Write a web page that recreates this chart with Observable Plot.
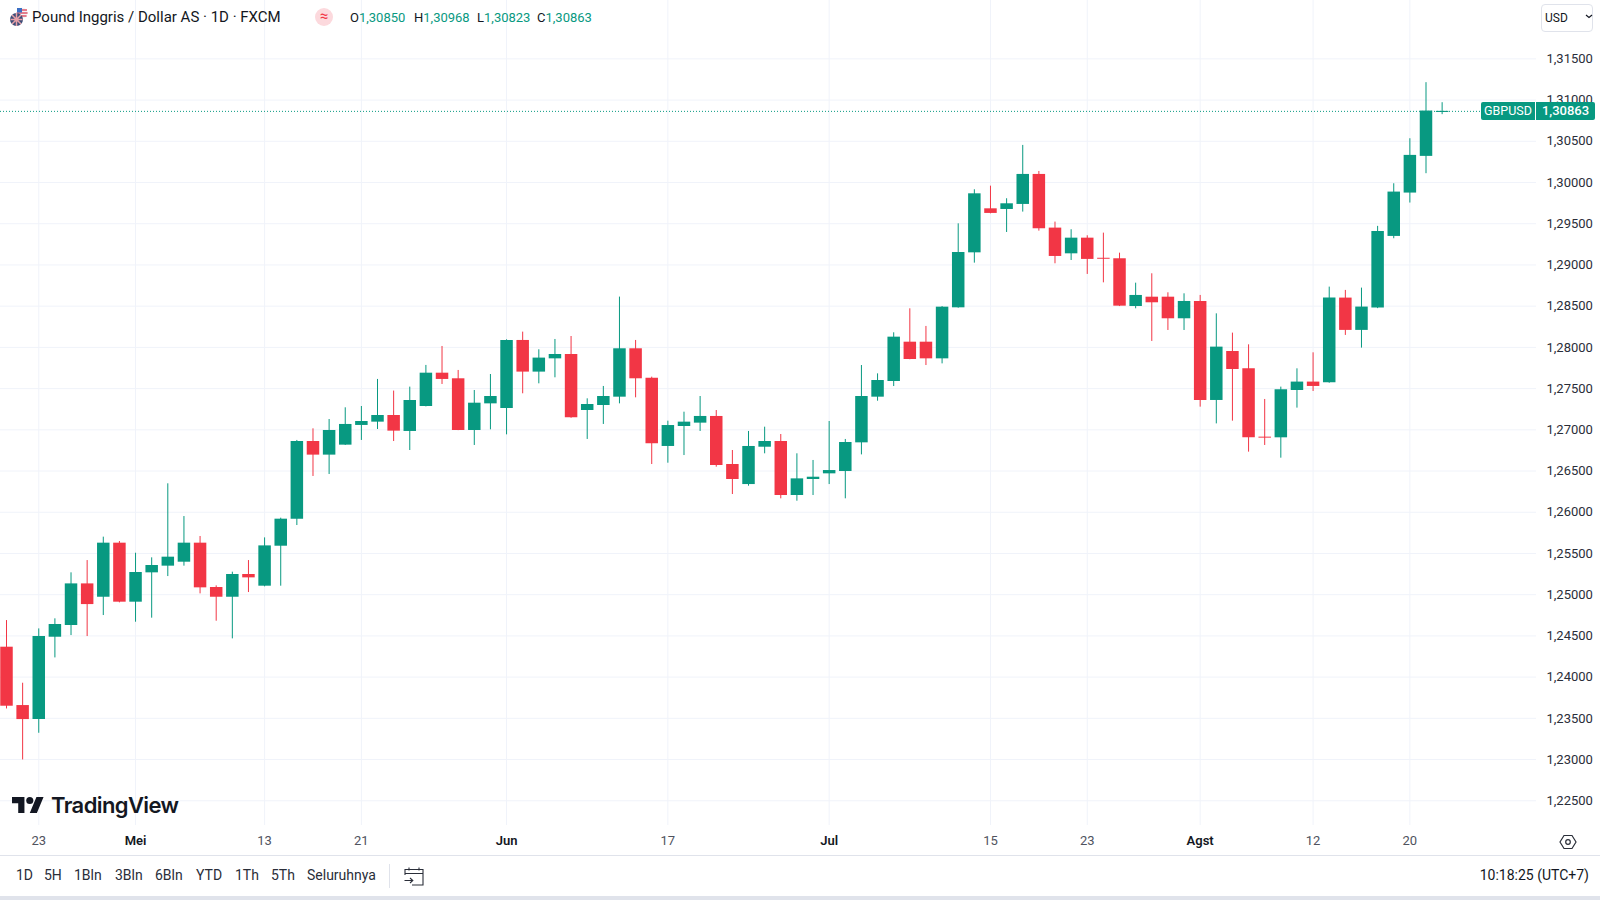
<!DOCTYPE html>
<html>
<head>
<meta charset="utf-8">
<script src="https://cdn.jsdelivr.net/npm/d3@7"></script>
<script src="https://cdn.jsdelivr.net/npm/@observablehq/plot@0.6"></script>
<style>
html,body{margin:0;padding:0;background:#fff;}
#page{position:relative;width:1600px;height:900px;overflow:hidden;background:#fff;font-family:Roboto,sans-serif;color:#131722;}
#page svg{display:block;}
.abs{position:absolute;white-space:nowrap;}
.g{color:#089981;}
.bar span{position:absolute;top:0;white-space:nowrap;}
</style>
</head>
<body>
<div id="page"></div>
<script>
const opens = [1.24363,1.23655,1.23485,1.24484,1.24626,1.25131,1.24969,1.25625,1.24909,1.25265,
1.25346,1.25394,1.25625,1.25087,1.24969,1.25245,1.25103,1.25588,1.25916,1.26858,
1.26693,1.26814,1.27053,1.27093,1.27174,1.26980,1.27283,1.27687,1.27619,1.26992,
1.27315,1.27259,1.28084,1.27700,1.27861,1.27914,1.27234,1.27295,1.27396,1.27983,
1.27627,1.26798,1.27040,1.27081,1.27162,1.26579,1.26336,1.26789,1.26858,1.26203,
1.26397,1.26466,1.26494,1.26842,1.27396,1.27586,1.28063,1.28063,1.27861,1.28480,
1.29147,1.29681,1.29673,1.29734,1.30098,1.29447,1.29135,1.29325,1.29081,1.29075,
1.28496,1.28609,1.28609,1.28347,1.28557,1.27356,1.27950,1.27740,1.26911,1.26903,
1.27477,1.27579,1.27570,1.28598,1.28206,1.28477,1.29346,1.29872,1.30317,1.30850];
const highs = [1.24686,1.23926,1.24585,1.24707,1.25265,1.25414,1.25698,1.25645,1.25503,1.25447,
1.26345,1.25948,1.25706,1.25107,1.25273,1.25414,1.25689,1.25928,1.26871,1.27012,
1.27125,1.27267,1.27283,1.27611,1.27470,1.27518,1.27781,1.28011,1.27720,1.27477,
1.27671,1.28092,1.28185,1.27971,1.28096,1.28132,1.27376,1.27526,1.28610,1.28084,
1.27639,1.27105,1.27214,1.27404,1.27234,1.26749,1.26980,1.27032,1.26943,1.26709,
1.26628,1.27101,1.26883,1.27780,1.27679,1.28177,1.28468,1.28254,1.28495,1.29499,
1.29912,1.29956,1.29803,1.30450,1.30134,1.29520,1.29427,1.29354,1.29386,1.29143,
1.28779,1.28893,1.28662,1.28650,1.28630,1.28407,1.28173,1.28031,1.27368,1.27518,
1.27740,1.27934,1.28731,1.28691,1.28719,1.29468,1.29985,1.30531,1.31211,1.30968];
const lows = [1.23614,1.22995,1.23319,1.24233,1.24504,1.24492,1.24747,1.24901,1.24666,1.24715,
1.25220,1.25346,1.25010,1.24678,1.24464,1.25026,1.25095,1.25103,1.25839,1.26434,
1.26458,1.26810,1.26871,1.27004,1.26858,1.26749,1.27278,1.27550,1.26990,1.26810,
1.27000,1.26939,1.27437,1.27558,1.27631,1.27140,1.26883,1.27065,1.27315,1.27388,
1.26579,1.26595,1.26688,1.26980,1.26547,1.26215,1.26316,1.26709,1.26163,1.26134,
1.26203,1.26336,1.26163,1.26696,1.27347,1.27525,1.27850,1.27780,1.27800,1.28475,
1.29022,1.29620,1.29394,1.29641,1.29410,1.29014,1.29054,1.28885,1.28783,1.28495,
1.28468,1.28072,1.28205,1.28205,1.27275,1.27072,1.27105,1.26729,1.26810,1.26656,
1.27263,1.27465,1.27565,1.28145,1.27991,1.28470,1.29318,1.29751,1.30107,1.30823];
const closes = [1.23647,1.23485,1.24492,1.24638,1.25131,1.24880,1.25625,1.24909,1.25269,1.25354,
1.25455,1.25625,1.25083,1.24969,1.25245,1.25204,1.25592,1.25916,1.26858,1.26693,
1.26992,1.27065,1.27101,1.27174,1.26984,1.27356,1.27687,1.27611,1.26992,1.27323,
1.27404,1.28084,1.27700,1.27870,1.27914,1.27145,1.27307,1.27404,1.27983,1.27619,
1.26830,1.27052,1.27093,1.27162,1.26567,1.26397,1.26798,1.26858,1.26203,1.26405,
1.26425,1.26506,1.26846,1.27404,1.27598,1.28124,1.27853,1.27861,1.28488,1.29151,
1.29863,1.29625,1.29742,1.30098,1.29439,1.29103,1.29325,1.29067,1.29069,1.28500,
1.28630,1.28541,1.28347,1.28557,1.27356,1.28003,1.27732,1.26903,1.26899,1.27486,
1.27579,1.27526,1.28598,1.28206,1.28489,1.29407,1.29884,1.30329,1.30867,1.30863];

const dayTickIndex = [2,16,22,41,61,67,81,87];
const dayTickLabels = ["23","13","21","17","15","23","12","20"];
const monthTickIndex = [8,31,51,74];
const monthTickLabels = ["Mei","Jun","Jul","Agst"];
const priceTicks = [1.225,1.23,1.235,1.24,1.245,1.25,1.255,1.26,1.265,1.27,1.275,1.28,1.285,1.29,1.295,1.3,1.305,1.31,1.315];
const rangeButtons = ["1D","5H","1Bln","3Bln","6Bln","YTD","1Th","5Th","Seluruhnya"];
const legendOHLC = [["O","1,30850"],["H","1,30968"],["L","1,30823"],["C","1,30863"]];
const lastPrice = 1.30863;

const GREEN = "#089981", RED = "#F23645", GRID = "#f0f3fa", TEXT = "#2a2e39";
const candles = opens.map((o,i)=>({i,o,h:highs[i],l:lows[i],c:closes[i],dir:closes[i]>=o?"up":"down"}));
const fmtPrice = v => v.toFixed(5).replace(".",",");
const allTicks = [...dayTickIndex,...monthTickIndex];

const chart = Plot.plot({
  width:1600, height:855,
  marginLeft:0, marginRight:64, marginTop:0, marginBottom:30,
  style:{fontFamily:"Roboto, sans-serif",background:"transparent"},
  x:{type:"linear",domain:[-0.372,94.85],axis:null},
  y:{type:"linear",domain:[1.2220,1.32208],axis:null},
  color:{domain:["up","down"],range:[GREEN,RED]},
  marks:[
    Plot.ruleX(allTicks,{stroke:GRID,strokeWidth:1}),
    Plot.ruleY(priceTicks,{stroke:GRID,strokeWidth:1}),
    Plot.axisY({anchor:"right",ticks:priceTicks,tickFormat:fmtPrice,tickSize:0,tickPadding:10,label:null,fontSize:13,fill:TEXT}),
    Plot.axisX({ticks:dayTickIndex,tickFormat:v=>dayTickLabels[dayTickIndex.indexOf(v)],tickSize:0,tickPadding:10,label:null,fontSize:13,fill:"#50535e"}),
    Plot.axisX({ticks:monthTickIndex,tickFormat:v=>monthTickLabels[monthTickIndex.indexOf(v)],tickSize:0,tickPadding:10,label:null,fontSize:13,fontWeight:600,fill:"#131722"}),
    Plot.ruleY([lastPrice],{stroke:GREEN,strokeWidth:1,strokeDasharray:"1 2"}),
    Plot.ruleX(candles,{x:"i",y1:"l",y2:"h",stroke:"dir",strokeWidth:1,clip:true}),
    Plot.ruleX(candles,{x:"i",y1:"o",y2:"c",stroke:"dir",strokeWidth:12.5,clip:true})
  ]
});
const page = document.getElementById("page");
page.appendChild(chart);
chart.style.position="absolute";chart.style.left="0";chart.style.top="0";

function add(html,css){const d=document.createElement("div");d.className="abs";d.style.cssText=css;d.innerHTML=html;page.appendChild(d);return d;}

// bottom furniture
add("", "left:0;top:855px;width:1600px;height:1px;background:#e0e3eb;");
add("", "left:0;top:896px;width:1600px;height:4px;background:#e0e3eb;");
add("", "left:389px;top:864px;width:1px;height:24px;background:#e0e3eb;");

// header
add(`<svg width="20" height="20" viewBox="0 0 20 20">
<circle cx="13" cy="6" r="5.5" fill="#f3f4f6"/><path d="M8 3h10M7.6 6h11M8.6 9h9" stroke="#e0566a" stroke-width="1.3"/><rect x="8" y="1" width="5" height="4.5" fill="#3b6fc4"/>
<circle cx="7.5" cy="12.5" r="6.5" fill="#3d4e78"/><path d="M1.5 12.5h12M7.5 6v13M3 8l9 9M12 8l-9 9" stroke="#e7a0a8" stroke-width="1.5"/></svg>`,"left:9px;top:7px;width:20px;height:20px;");
add("Pound Inggris / Dollar AS · 1D · FXCM","left:32px;top:8px;font-size:15px;line-height:19px;color:#131722;");
add("≈","left:315px;top:8px;width:18px;height:18px;border-radius:9px;background:#fcd9dd;color:#f23645;font-size:15px;line-height:17px;text-align:center;");
const legendX=[350,414,477,537];
legendOHLC.forEach(([k,v],i)=>add(`${k}<span class="g">${v}</span>`,`left:${legendX[i]}px;top:9px;font-size:13px;line-height:17px;color:#131722;`));

// currency box
add(`USD`,"left:1541px;top:4px;width:47px;height:26px;padding-left:3px;border:1px solid #e0e3eb;border-radius:4px;font-size:12px;line-height:27px;color:#131722;background:#fff;");
add(`<svg width="8" height="5" viewBox="0 0 8 5"><path d="M1 1l3 2.5L7 1" fill="none" stroke="#131722" stroke-width="1.2"/></svg>`,"left:1585px;top:14px;");

// last-price badges
const py = chart.scale("y").apply(lastPrice);
add("GBPUSD",`left:1481px;top:${py-9}px;width:54px;height:18px;background:${GREEN};color:#fff;border-radius:2px 0 0 2px;font-size:12.5px;line-height:18px;text-align:center;`);
add(fmtPrice(lastPrice),`left:1536px;top:${py-9}px;width:59px;height:18px;background:${GREEN};color:#fff;border-radius:0 2px 2px 0;font-size:13px;line-height:18px;text-align:center;font-weight:500;`);

// logo
add(`<svg width="32" height="16" viewBox="0 4 36 18"><path d="M14 22H7V11H0V4h14v18zM28 22h-8l7.5-18h8L28 22z" fill="#131722"/><circle cx="20" cy="8" r="4" fill="#131722"/></svg>`,"left:12px;top:797px;");
add("TradingView","left:51px;top:791px;font-family:Inter,sans-serif;font-size:22px;font-weight:600;letter-spacing:-0.6px;line-height:28px;color:#131722;");

// settings icon
add(`<svg width="18" height="18" viewBox="0 0 18 18"><path d="M5 2.5h8L17 9l-4 6.500H5L1 9z" fill="none" stroke="#2a2e39" stroke-width="1.2"/><circle cx="9" cy="9" r="2.300" fill="none" stroke="#2a2e39" stroke-width="1.2"/></svg>`,"left:1559px;top:833px;");

// range buttons
const btnX=[16,44,74,115,155,196,235,271,307];
rangeButtons.forEach((t,i)=>add(t,`left:${btnX[i]}px;top:866px;font-size:14px;line-height:19px;color:#2a2e39;`));
add(`<svg width="22" height="22" viewBox="0 0 22 22"><path d="M2 10V4.500h18V20H9M2 8.500h18M6 2.500v3M16 2.500v3M1.500 15.500h8M7 13l2.800 2.500L7 18" fill="none" stroke="#2a2e39" stroke-width="1.1"/></svg>`,"left:403px;top:865px;");
add("10:18:25 (UTC+7)","right:11px;top:866px;font-size:14px;line-height:19px;color:#131722;");
</script>
</body>
</html>
